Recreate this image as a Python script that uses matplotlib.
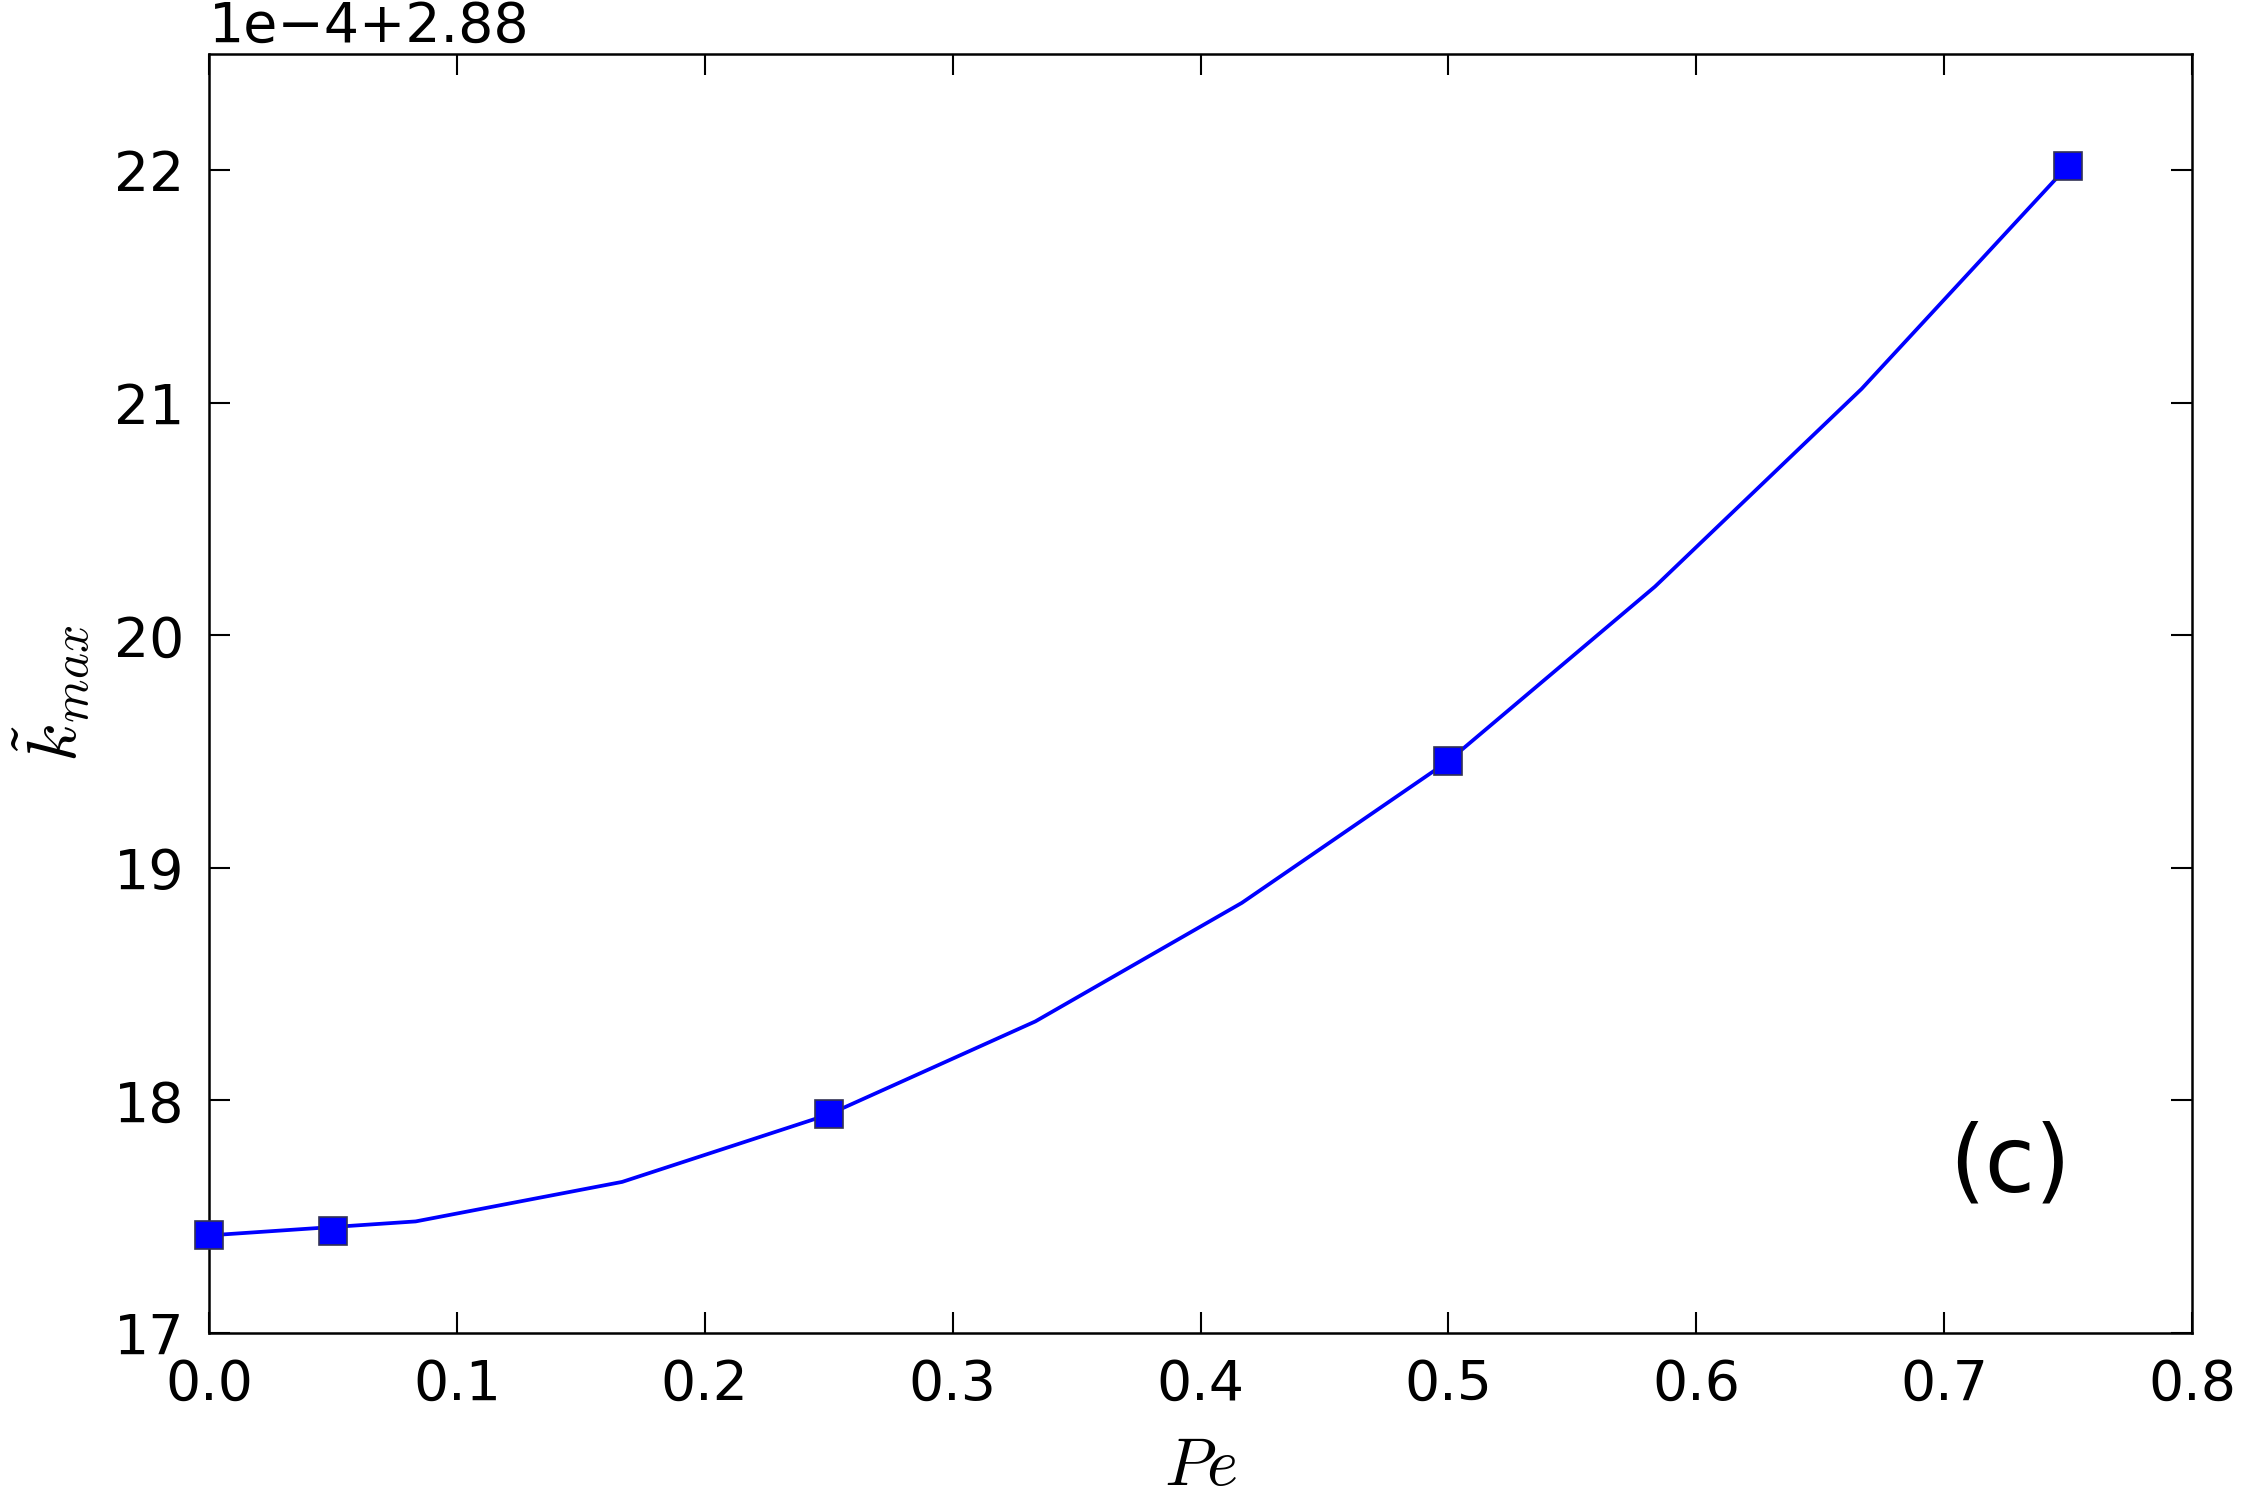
import numpy as np
import matplotlib
matplotlib.use('Agg')
import matplotlib.pyplot as plt
from matplotlib.ticker import ScalarFormatter

plt.rcParams['mathtext.fontset'] = 'cm'
plt.rcParams['font.family'] = 'DejaVu Sans'

# curve, Pe = k/12
pe_line = [0.0, 1/12, 2/12, 3/12, 4/12, 5/12, 6/12, 7/12, 8/12, 9/12]
k_line = [17.42, 17.48, 17.65, 17.94, 18.34, 18.85, 19.46, 20.21, 21.06, 22.02]

# computed points (squares)
pe_pts = [0.0, 0.05, 0.25, 0.5, 0.75]
k_pts = [17.42, 17.44, 17.94, 19.46, 22.02]

# values above are in units of 1e-4 above 2.88
base = 2.88
unit = 1e-4

fig = plt.figure(figsize=(2243 / 300, 1509 / 300), dpi=300)
ax = fig.add_axes([0.0932, 0.1166, 0.9773 - 0.0932, 0.9642 - 0.1166])

ax.plot(pe_line, base + np.array(k_line) * unit, '-', color='blue', lw=0.9, zorder=2)
ax.plot(pe_pts, base + np.array(k_pts) * unit, 's', color='blue', ms=6.6,
        mec='#333355', mew=0.4, zorder=3, clip_on=False)

ax.set_xlim(0, 0.8)
ax.set_ylim(base + 17 * unit, base + 22.5 * unit)
ax.set_xticks(np.arange(0, 0.81, 0.1))
ax.set_yticks(base + np.arange(17, 23) * unit)

fmt = ScalarFormatter(useOffset=base)
fmt.set_powerlimits((-4, -4))
ax.yaxis.set_major_formatter(fmt)
ax.xaxis.set_major_formatter(plt.FuncFormatter(lambda v, p: '%.1f' % v))

ax.tick_params(direction='in', length=5, width=0.5, labelsize=13.3,
               top=True, right=True, pad=6)
ax.yaxis.get_offset_text().set_fontsize(13.3)
for s in ax.spines.values():
    s.set_linewidth(0.6)

ax.set_xlabel(r'$Pe$', fontsize=16, labelpad=5)
ax.set_ylabel(r'$\tilde{k}_{max}$', fontsize=17, labelpad=5)

ax.text(0.908, 0.131, '(c)', transform=ax.transAxes, fontsize=22,
        ha='center', va='center')

fig.savefig('out.png', dpi=300)
